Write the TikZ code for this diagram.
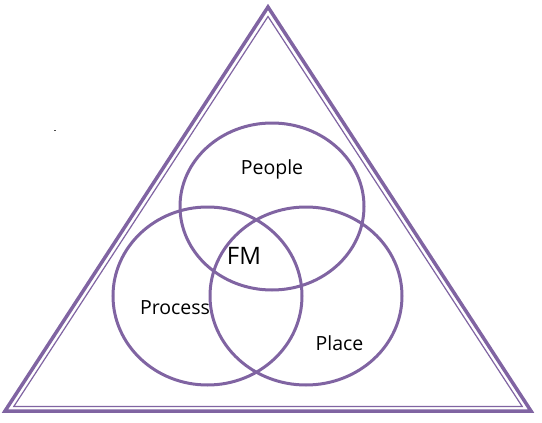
\documentclass[tikz,border=0pt]{standalone}
\usepackage{fontspec}
\setmainfont{Open Sans}
\usetikzlibrary{shapes.geometric}
\definecolor{fmpurple}{HTML}{8064A2}
\tikzset{
  venn/.style={draw=fmpurple, line width=3pt, ellipse, inner sep=0pt},
  lbl/.style={font=\fontsize{19.5}{23}\selectfont, text=black},
  tri/.style={draw=fmpurple, line join=miter}
}
\begin{document}
\begin{tikzpicture}[x=1pt,y=-1pt]
\useasboundingbox (0,0) rectangle (542,423);
% triangle, double line
\coordinate (ta) at (268,7);
\coordinate (tl) at (5,411);
\coordinate (tr) at (531,411);
\draw[tri, line width=3.5pt] (ta) -- (tl) -- (tr) -- cycle;
\coordinate (ia) at (268,16.5);
\coordinate (il) at (13.8,406.5);
\coordinate (ir) at (522.2,406.5);
\draw[tri, line width=1.2pt] (ia) -- (il) -- (ir) -- cycle;
% ellipses
\node[venn, minimum width=184pt, minimum height=167pt] (people) at (272,206.5) {};
\node[venn, minimum width=189pt, minimum height=178pt] (process) at (207.5,296) {};
\node[venn, minimum width=192pt, minimum height=178pt] (place) at (306,296) {};
% labels
\node[lbl] (tpeople) at (272,169) {People};
\node[lbl] (tprocess) at (175,308) {Process};
\node[lbl] (tplace) at (339.5,343) {Place};
\node[font=\fontsize{24}{28}\selectfont] (tfm) at (244,256) {FM};
\fill[black!70] (54,129.5) rectangle (55.5,131) coordinate (dot);
\end{tikzpicture}
\end{document}
